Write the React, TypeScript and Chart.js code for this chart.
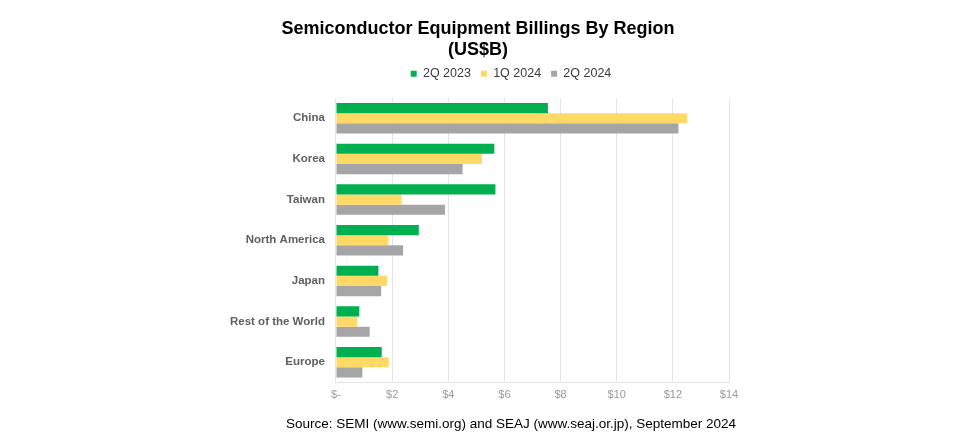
import React, { useEffect, useRef } from "react";
import { Chart, registerables } from "chart.js";

Chart.register(...registerables);

const categories = ["China", "Korea", "Taiwan", "North America", "Japan", "Rest of the World", "Europe"];
const seriesNames = ["2Q 2023", "1Q 2024", "2Q 2024"];
const q2_2023 = [7.55, 5.64, 5.68, 2.95, 1.51, 0.83, 1.63];
const q1_2024 = [12.51, 5.2, 2.34, 1.87, 1.82, 0.75, 1.88];
const q2_2024 = [12.2, 4.51, 3.88, 2.39, 1.61, 1.2, 0.94];
const seriesColors = ["#00AF50", "#FFD966", "#A5A5A7"];
const xTickMax = 14;
const xTickStep = 2;
const titleLines = ["Semiconductor Equipment Billings By Region", "(US$B)"];
const sourceText = "Source: SEMI (www.semi.org) and SEAJ (www.seaj.or.jp), September 2024";

const FONT = "'Liberation Sans', Arial, Helvetica, sans-serif";

export default function App() {
  const ref = useRef<HTMLCanvasElement | null>(null);
  useEffect(() => {
    document.body.style.margin = "0";
    const canvas = ref.current;
    if (!canvas) return;
    const shiftPlugin = {
      id: "shiftBlocks",
      afterLayout(chart: any) {
        const lg = chart.legend;
        if (lg) {
          lg.left += 33;
          lg.right += 33;
          lg.top -= 8;
          lg.bottom -= 8;
        }
        for (const b of chart.boxes) {
          if (b && b.options && b.options.text === sourceText) {
            b.left += 33;
            b.right += 33;
          }
        }
      },
    };
    const chart = new Chart(canvas, {
      type: "bar",
      data: {
        labels: categories,
        datasets: [q2_2023, q1_2024, q2_2024].map((d, i) => ({
          label: seriesNames[i],
          data: d,
          backgroundColor: seriesColors[i],
          borderWidth: 0,
          barPercentage: 1,
          categoryPercentage: 0.75,
        })),
      },
      options: {
        indexAxis: "y",
        responsive: false,
        animation: false,
        layout: { padding: { left: 227, right: 236, top: 0, bottom: 3 } },
        plugins: {
          title: {
            display: true,
            text: titleLines,
            color: "#000",
            font: { family: FONT, size: 18, weight: "bold", lineHeight: 1.15 },
            padding: { top: 19, bottom: 5 },
          },
          subtitle: {
            display: true,
            position: "bottom",
            text: sourceText,
            color: "#000",
            font: { family: FONT, size: 13.5 },
            padding: { top: 8, bottom: 4 },
          },
          legend: {
            display: true,
            position: "top",
            labels: {
              boxWidth: 6,
              boxHeight: 6,
              padding: 10,
              color: "#3a3a3a",
              font: { family: FONT, size: 12.5 },
            },
          },
          tooltip: { enabled: false },
        },
        scales: {
          x: {
            min: 0,
            max: xTickMax,
            ticks: {
              stepSize: xTickStep,
              color: "#9a9a9a",
              font: { family: FONT, size: 11 },
              padding: 6,
              callback: (v: any) => (Number(v) === 0 ? "$-" : "$" + v),
            },
            grid: { color: "#e4e4e4", drawTicks: false },
            border: { color: "#e4e4e4" },
          },
          y: {
            ticks: {
              color: "#5f5f5f",
              font: { family: FONT, size: 11.5, weight: "bold" },
            },
            grid: { display: false },
            border: { display: false },
          },
        },
      },
      plugins: [shiftPlugin],
    });
    return () => chart.destroy();
  }, []);
  return (
    <div style={{ width: 965, height: 439, background: "#fff" }}>
      <canvas ref={ref} width={965} height={439} />
    </div>
  );
}
